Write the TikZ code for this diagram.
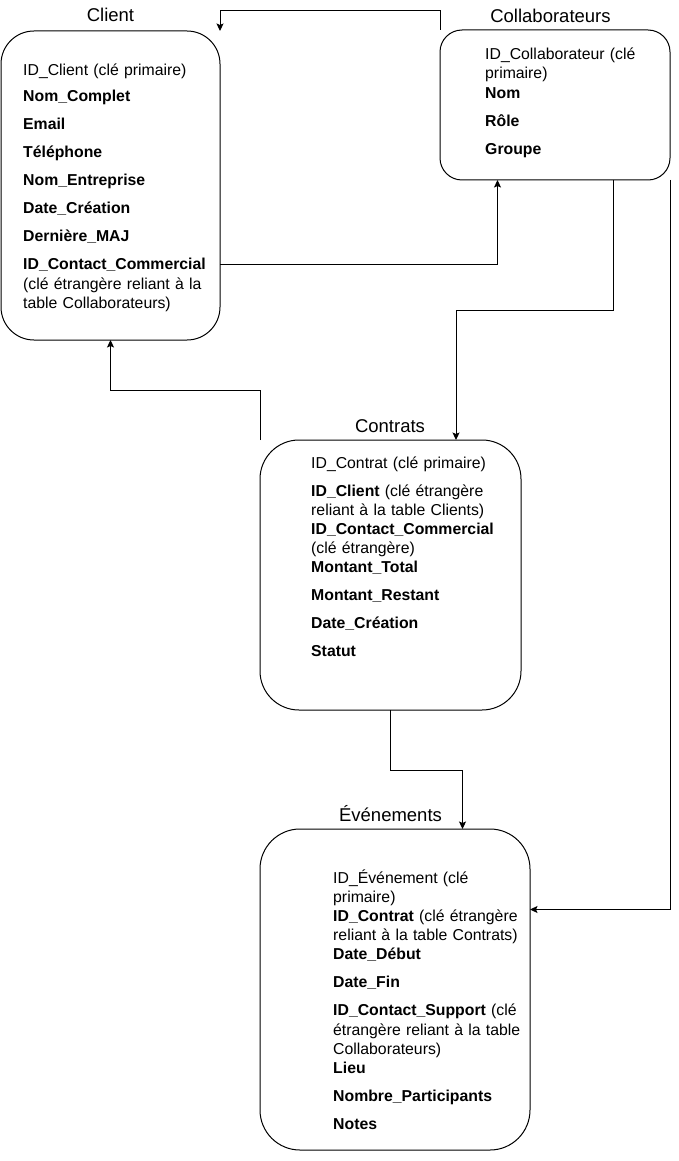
\documentclass[tikz,border=0pt]{standalone}
\usepackage{fontspec}
\setmainfont{Liberation Sans}
\usetikzlibrary{arrows.meta,calc}
\begin{document}
\begin{tikzpicture}[x=1pt,y=-1pt,
  box/.style={draw=black, line width=1pt, rounded corners=#1, inner sep=0pt, outer sep=0pt},
  fld/.style={anchor=base west, inner sep=0pt, text width=260pt, align=left, font=\fontsize{15.8}{19.2}\selectfont},
  ttl/.style={anchor=base, inner sep=0pt, font=\fontsize{18.5}{22}\selectfont},
  arr/.style={draw=black, line width=1pt, -{Stealth[length=7.5pt,width=7pt,inset=1.5pt]}},
]
\useasboundingbox (0,0) rectangle (679,1161);

% tables
\node[box=33pt, minimum width=219pt, minimum height=309pt] (cl) at (110.5,185.5) {};
\node[box=22pt, minimum width=230pt, minimum height=150pt] (co) at (555,105) {};
\node[box=39pt, minimum width=261pt, minimum height=270pt] (ct) at (390.5,575) {};
\node[box=40pt, minimum width=270pt, minimum height=321pt] (ev) at (395,989.5) {};

% titles
\node[ttl] (clT) at (110.5,22) {Client};
\node[ttl] (coT) at (550.5,22.5) {Collaborateurs};
\node[ttl] (ctT) at (390,432) {Contrats};
\node[ttl] (evT) at (390.5,821.5) {Événements};

% fields
\node[fld] (clF) at (23,76) {ID\_Client (clé primaire)\\[6.8pt]
\textbf{Nom\_Complet}\\[8.8pt]
\textbf{Email}\\[8.8pt]
\textbf{Téléphone}\\[8.8pt]
\textbf{Nom\_Entreprise}\\[8.8pt]
\textbf{Date\_Création}\\[8.8pt]
\textbf{Dernière\_MAJ}\\[8.8pt]
\textbf{ID\_Contact\_Commercial}\\
(clé étrangère reliant à la\\
table Collaborateurs)};

\node[fld] (coF) at (485,59.5) {ID\_Collaborateur (clé\\
primaire)\\[0.6pt]
\textbf{Nom}\\[8.8pt]
\textbf{Rôle}\\[8.8pt]
\textbf{Groupe}};

\node[fld] (ctF) at (311,468) {ID\_Contrat (clé primaire)\\[8.8pt]
\textbf{ID\_Client} (clé étrangère\\
reliant à la table Clients)\\
\textbf{ID\_Contact\_Commercial}\\
(clé étrangère)\\
\textbf{Montant\_Total}\\[8.8pt]
\textbf{Montant\_Restant}\\[8.8pt]
\textbf{Date\_Création}\\[8.8pt]
\textbf{Statut}};

\node[fld] (evF) at (333,883) {ID\_Événement (clé\\
primaire)\\
\textbf{ID\_Contrat} (clé étrangère\\
reliant à la table Contrats)\\
\textbf{Date\_Début}\\[8.8pt]
\textbf{Date\_Fin}\\[8.8pt]
\textbf{ID\_Contact\_Support} (clé\\
étrangère reliant à la table\\
Collaborateurs)\\
\textbf{Lieu}\\[8.8pt]
\textbf{Nombre\_Participants}\\[8.8pt]
\textbf{Notes}};

% connectors
\draw[arr] (co.north west) -- ++(0,-19) -| (cl.north east);
\draw[arr] ($(cl.north east)+(0,233)$) -| ($(co.south west)+(57.5,0)$);
\draw[arr] ($(co.south west)+(173,0)$) -- ++(0,130) -| ($(ct.north west)+(196,0)$);
\draw[arr] (co.south east) |- ($(ev.north east)+(0,80.5)$);
\draw[arr] (ct.north west) -- ++(0,-49.5) -| (cl.south);
\draw[arr] (ct.south) -- ++(0,60) -| ($(ev.north west)+(202.5,0)$);
\end{tikzpicture}
\end{document}
